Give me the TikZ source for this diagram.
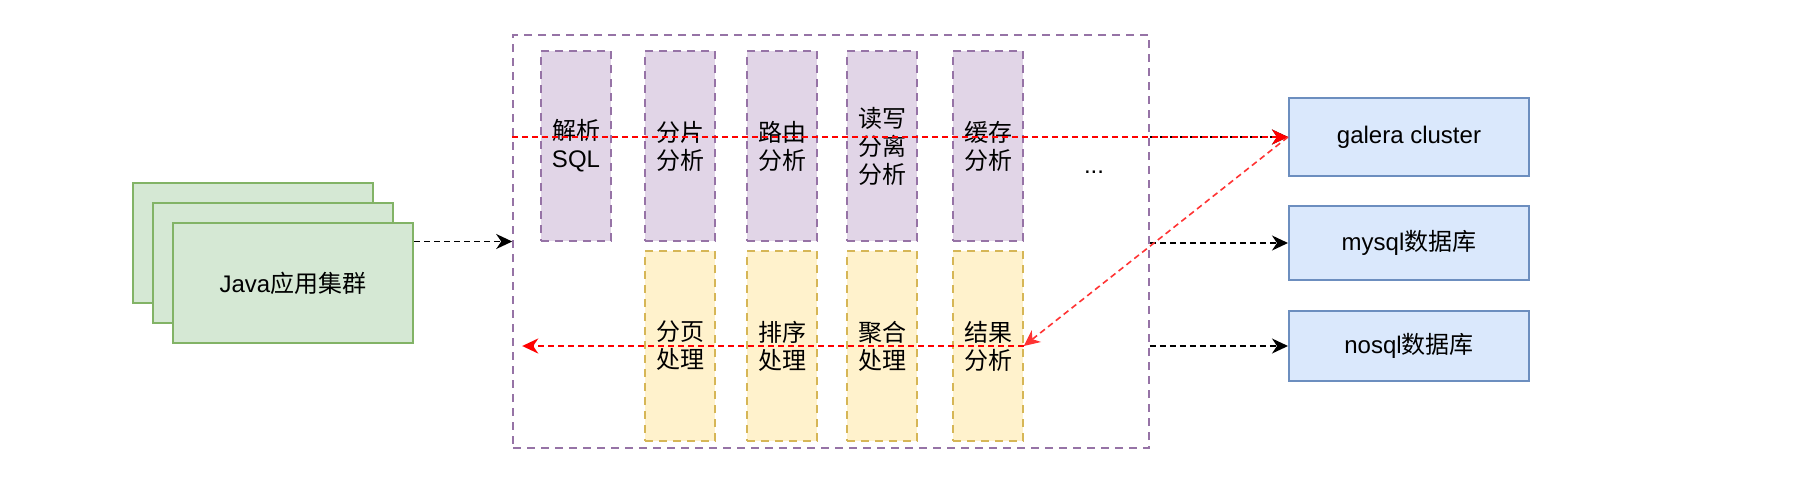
\documentclass[tikz,border=0pt]{standalone}
\usepackage{fontspec}
\setmainfont{Liberation Sans}
\newfontfamily\cjk{Noto Sans CJK SC}
\usetikzlibrary{arrows.meta}
\definecolor{greenfill}{HTML}{D5E8D4}
\definecolor{greenline}{HTML}{82B366}
\definecolor{purplefill}{HTML}{E1D5E7}
\definecolor{purpleline}{HTML}{9673A6}
\definecolor{yellowfill}{HTML}{FFF2CC}
\definecolor{yellowline}{HTML}{D6B656}
\definecolor{bluefill}{HTML}{DAE8FC}
\definecolor{blueline}{HTML}{6C8EBF}
\definecolor{redline}{HTML}{FF0000}
\definecolor{lightred}{HTML}{FF3333}
\tikzset{
  box text/.style={font=\fontsize{12pt}{14pt}\selectfont, align=center, inner sep=0},
  cjk text/.style={font=\fontsize{12pt}{14pt}\selectfont\cjk},
  app box/.style={box text, draw=greenline, fill=greenfill, line width=1pt, minimum width=120pt, minimum height=60pt},
  proxy box/.style={draw=purpleline, line width=0.8pt, dash pattern=on 4pt off 3pt, minimum width=318pt, minimum height=206.5pt},
  stage box/.style={box text, draw=purpleline, fill=purplefill, line width=0.8pt, dash pattern=on 4pt off 3pt, minimum width=35pt, minimum height=95pt},
  post box/.style={box text, cjk text, draw=yellowline, fill=yellowfill, line width=0.8pt, dash pattern=on 4pt off 3pt, minimum width=35pt, minimum height=95pt},
  db box/.style={box text, draw=blueline, fill=bluefill, line width=1pt, minimum width=120pt},
  flow/.style={-{Stealth[length=8pt,width=7.5pt,inset=2.5pt]}, line width=0.8pt, dash pattern=on 3pt off 2pt},
  red flow/.style={flow, line width=1pt, draw=redline, color=redline}
}

\begin{document}
\begin{tikzpicture}[x=0.5pt,y=-0.5pt]
  \useasboundingbox (0,0) rectangle (1812,484);

  %Java应用集群
  \node[app box] (app3) at (253,243) {};
  \node[app box] (app2) at (273,263) {};
  \node[app box] (app1) at (293,283) {Java{\cjk 应用集群}};

  %中间层
  \node[proxy box] (proxy) at (831,241.5) {};
  \node[stage box] (parse) at (576,146) {{\cjk 解析}\\SQL};
  \node[stage box, cjk text] (shard) at (680,146) {分片\\分析};
  \node[stage box, cjk text] (route) at (782,146) {路由\\分析};
  \node[stage box, cjk text] (rw) at (882,146) {读写\\分离\\分析};
  \node[stage box, cjk text] (cache) at (988,146) {缓存\\分析};
  \node[box text] (dots) at (1094,172) {...};

  \node[post box] (page) at (680,346) {分页\\处理};
  \node[post box] (sort) at (782,346) {排序\\处理};
  \node[post box] (merge) at (882,346) {聚合\\处理};
  \node[post box] (result) at (988,346) {结果\\分析};

  %数据库
  \node[db box, minimum height=39pt] (galera) at (1409,137) {galera cluster};
  \node[db box, minimum height=37pt] (mysql) at (1409,243) {mysql{\cjk 数据库}};
  \node[db box, minimum height=35pt] (nosql) at (1409,346) {nosql{\cjk 数据库}};

  %黒の矢印
  \draw[flow] (app1.east |- proxy.west) -- (proxy.west);
  \draw[flow] (proxy.east |- galera.west) -- (galera.west);
  \draw[flow] (proxy.east |- mysql.west) -- (mysql.west);
  \draw[flow] (proxy.east |- nosql.west) -- (nosql.west);

  %赤の矢印
  \coordinate (back) at ([xshift=5pt]proxy.west |- result.east);
  \draw[red flow] (proxy.west |- galera.west) -- (galera.west);
  \draw[red flow, line width=0.8pt, draw=lightred, color=lightred] (galera.west) -- (result.east);
  \draw[red flow] (result.east) -- (back);

\end{tikzpicture}
\end{document}
